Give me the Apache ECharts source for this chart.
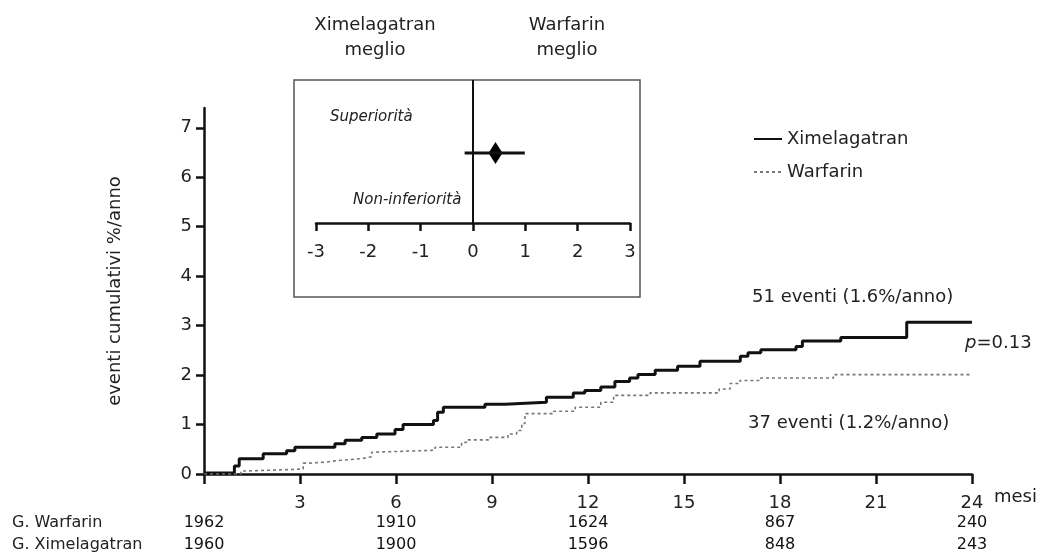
<!DOCTYPE html>
<html>
<head>
<meta charset="utf-8">
<title>Ximelagatran vs Warfarin</title>
<script src="https://cdn.jsdelivr.net/npm/echarts@6.0.0/dist/echarts.min.js"></script>
<style>
  html, body { margin: 0; padding: 0; background: #fff; }
  #chart { width: 1042px; height: 556px; }
</style>
</head>
<body>
<div id="chart"></div>
<script>
// curve points: [mese, eventi cumulativi %/anno] (valore dopo il gradino)
const ximelagatranSteps = [
  [0, 0.02], [0.95, 0.16], [1.1, 0.31], [1.85, 0.41], [2.58, 0.47], [2.84, 0.54],
  [4.09, 0.61], [4.41, 0.68], [4.93, 0.74], [5.4, 0.81], [5.97, 0.9], [6.22, 1.0],
  [7.17, 1.08], [7.3, 1.25], [7.48, 1.35], [8.78, 1.41], [9.4, 1.45], [10.7, 1.55],
  [11.54, 1.64], [11.9, 1.69], [12.4, 1.76], [12.84, 1.87], [13.3, 1.94], [13.56, 2.01],
  [14.1, 2.1], [14.8, 2.18], [15.5, 2.28], [16.76, 2.38], [17.0, 2.45], [17.4, 2.51],
  [18.5, 2.58], [18.7, 2.69], [19.9, 2.76], [21.96, 3.07], [24, 3.07]
]
const warfarinSteps = [
  [0, 0], [1.15, 0.06], [1.3, 0.1], [3.1, 0.22], [3.3, 0.24], [3.8, 0.27],
  [4.15, 0.31], [4.93, 0.35], [5.24, 0.44], [5.3, 0.48], [7.22, 0.54], [8.05, 0.64],
  [8.2, 0.69], [8.94, 0.74], [9.5, 0.81], [9.77, 0.88], [9.93, 1.02], [10.03, 1.22],
  [10.92, 1.27], [11.6, 1.35], [12.4, 1.45], [12.8, 1.59], [13.94, 1.64], [16.1, 1.72],
  [16.44, 1.83], [16.75, 1.89], [17.4, 1.94], [19.67, 2.01], [24, 2.01]
]
const yTicks = [0, 1, 2, 3, 4, 5, 6, 7]

// pazienti a rischio
const riskGroups = ['G. Warfarin', 'G. Ximelagatran']
const riskMonths = [0, 6, 12, 18, 24]
const riskWarfarin = [1962, 1910, 1624, 867, 240]
const riskXimelagatran = [1960, 1900, 1596, 848, 243]

// riquadro: differenza (%/anno) con IC
const diffEstimate = 0.43
const diffLow = -0.16
const diffHigh = 0.99
const diffRow = 0.49

const FONT = 'DejaVu Sans'
const TXT = '#222'

let riskData = []
riskMonths.forEach((m, i) => {
  riskData.push([m, riskGroups[0], riskWarfarin[i]])
  riskData.push([m, riskGroups[1], riskXimelagatran[i]])
})

const option = {
  animation: false,
  textStyle: { fontFamily: FONT, color: TXT },
  legend: {
    orient: 'vertical',
    left: 748, top: 125,
    itemWidth: 28, itemHeight: 14, itemGap: 15,
    itemStyle: { opacity: 0 },
    textStyle: { fontFamily: FONT, fontSize: 18, color: TXT },
    data: ['Ximelagatran', 'Warfarin']
  },
  grid: [
    { left: 204, right: 70, top: 108, bottom: 82 },
    { left: 204, right: 70, top: 512, height: 48 },
    { left: 316, right: 412, top: 80, bottom: 333 }
  ],
  xAxis: [
    {
      gridIndex: 0, type: 'value', min: 0, max: 24, interval: 3,
      name: 'mesi', nameLocation: 'end', nameGap: 22,
      nameTextStyle: { fontSize: 18, color: TXT, verticalAlign: 'top', padding: [14, 0, 0, 0] },
      axisLine: { lineStyle: { color: '#111', width: 2.5 } },
      axisTick: { length: 10, lineStyle: { color: '#111', width: 2.5 } },
      axisLabel: { fontSize: 18, color: TXT, margin: 20, formatter: v => v === 0 ? '' : v },
      splitLine: { show: false }
    },
    {
      gridIndex: 1, type: 'value', min: 0, max: 24, show: false
    },
    {
      gridIndex: 2, type: 'value', min: -3, max: 3, interval: 1,
      axisLine: { onZero: false, lineStyle: { color: '#111', width: 2.5 } },
      axisTick: { length: 8, lineStyle: { color: '#111', width: 2.5 } },
      axisLabel: { fontSize: 18, color: TXT, margin: 20 },
      splitLine: { show: false }
    }
  ],
  yAxis: [
    {
      gridIndex: 0, type: 'value', min: 0, max: 7.4,
      name: 'eventi cumulativi %/anno', nameLocation: 'middle', nameGap: 80, nameRotate: 90,
      nameTextStyle: { fontSize: 18, color: TXT },
      axisLine: { show: true, lineStyle: { color: '#111', width: 2.5 } },
      axisTick: { show: true, length: 8, customValues: yTicks, lineStyle: { color: '#111', width: 2.5 } },
      axisLabel: { fontSize: 18, color: TXT, margin: 12, customValues: yTicks },
      splitLine: { show: false }
    },
    {
      gridIndex: 1, type: 'category', inverse: true, data: riskGroups,
      axisLine: { show: false }, axisTick: { show: false },
      axisLabel: { fontSize: 16, color: TXT, align: 'left', margin: 192 }
    },
    {
      gridIndex: 2, type: 'value', min: 0, max: 1, show: false
    }
  ],
  series: [
    {
      name: 'Ximelagatran', type: 'line', step: 'end',
      xAxisIndex: 0, yAxisIndex: 0, symbol: 'none',
      data: ximelagatranSteps,
      lineStyle: { color: '#111', width: 3 },
      itemStyle: { color: '#111' }
    },
    {
      name: 'Warfarin', type: 'line', step: 'end',
      xAxisIndex: 0, yAxisIndex: 0, symbol: 'none',
      data: warfarinSteps,
      lineStyle: { color: '#777', width: 1.6, type: [3, 3] },
      itemStyle: { color: '#777' }
    },
    {
      name: 'rischio', type: 'scatter', xAxisIndex: 1, yAxisIndex: 1,
      symbolSize: 1, itemStyle: { color: '#fff' },
      data: riskData,
      label: {
        show: true, position: 'inside', fontSize: 16, color: '#111', opacity: 1,
        textBorderWidth: 0,
        formatter: p => p.data[2]
      }
    },
    {
      name: 'IC', type: 'line', xAxisIndex: 2, yAxisIndex: 2, symbol: 'none',
      data: [[diffLow, diffRow], [diffHigh, diffRow]],
      lineStyle: { color: '#111', width: 3 },
      markLine: {
        silent: true, symbol: 'none', label: { show: false },
        lineStyle: { color: '#111', width: 2, type: 'solid' },
        data: [{ xAxis: 0 }]
      }
    },
    {
      name: 'stima', type: 'scatter', xAxisIndex: 2, yAxisIndex: 2,
      symbol: 'diamond', symbolSize: [14, 22],
      itemStyle: { color: '#000', opacity: 1 },
      data: [[diffEstimate, diffRow]]
    }
  ],
  graphic: [
    { type: 'rect', shape: { x: 294, y: 80, width: 346, height: 217 },
      style: { fill: 'none', stroke: '#555', lineWidth: 1.5 }, z: 0 },
    { type: 'text', x: 375, y: 13, style: { text: 'Ximelagatran\nmeglio', font: '18px "DejaVu Sans"', fill: TXT, align: 'center', lineHeight: 25 } },
    { type: 'text', x: 567, y: 13, style: { text: 'Warfarin\nmeglio', font: '18px "DejaVu Sans"', fill: TXT, align: 'center', lineHeight: 25 } },
    { type: 'text', x: 330, y: 117, style: { text: 'Superiorità', font: 'italic 15px "DejaVu Sans"', fill: TXT, verticalAlign: 'middle' } },
    { type: 'text', x: 353, y: 200, style: { text: 'Non-inferiorità', font: 'italic 15px "DejaVu Sans"', fill: TXT, verticalAlign: 'middle' } },
    { type: 'text', x: 752, y: 297, style: { text: '51 eventi (1.6%/anno)', font: '18px "DejaVu Sans"', fill: TXT, verticalAlign: 'middle' } },
    { type: 'text', x: 748, y: 423, style: { text: '37 eventi (1.2%/anno)', font: '18px "DejaVu Sans"', fill: TXT, verticalAlign: 'middle' } },
    { type: 'text', x: 965, y: 343, style: {
        text: '{p|p}=0.13', font: '18px "DejaVu Sans"', fill: TXT, verticalAlign: 'middle',
        rich: { p: { fontStyle: 'italic', fontSize: 18, fontFamily: FONT, fill: TXT } }
      } }
  ]
}

const myChart = echarts.init(document.getElementById('chart'))
myChart.setOption(option)
window.addEventListener('resize', () => { myChart.resize() })
</script>
</body>
</html>
